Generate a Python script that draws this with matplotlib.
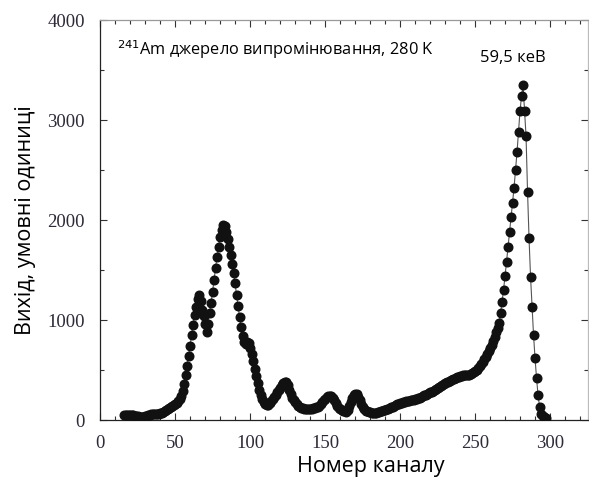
import numpy as np
import matplotlib
matplotlib.use("Agg")
import matplotlib.pyplot as plt
from matplotlib.ticker import MultipleLocator

# ---------------------------------------------------------------------------
# Data (channel -> counts)
# ---------------------------------------------------------------------------
channels = list(range(16, 298))

counts = [
    # 16-55
    55, 55, 52, 50, 50, 48, 48, 45, 42, 38,
    35, 33, 33, 35, 40, 45, 50, 55, 58, 60,
    62, 62, 63, 65, 68, 72, 78, 88, 100, 112,
    122, 132, 142, 152, 162, 175, 190, 210, 240, 290,
    # 56-95
    360, 450, 540, 640, 740, 850, 950, 1050, 1130, 1210,
    1250, 1190, 1100, 1040, 960, 880, 960, 1070, 1170, 1280,
    1400, 1520, 1630, 1730, 1830, 1900, 1950, 1940, 1880, 1810,
    1730, 1650, 1560, 1470, 1370, 1250, 1140, 1030, 930, 840,
    # 96-135
    780, 760, 780, 770, 720, 660, 590, 510, 440, 370,
    300, 250, 210, 180, 160, 150, 155, 170, 190, 210,
    235, 255, 280, 300, 325, 350, 370, 385, 380, 350,
    300, 260, 225, 200, 180, 160, 145, 135, 125, 120,
    # 136-175
    115, 112, 110, 110, 112, 115, 118, 122, 128, 135,
    145, 160, 180, 200, 215, 230, 240, 245, 240, 225,
    200, 170, 140, 120, 110, 100, 92, 87, 85, 100,
    140, 185, 225, 250, 260, 258, 235, 200, 165, 135,
    # 176-215
    110, 95, 88, 82, 78, 75, 73, 72, 74, 78,
    82, 88, 95, 100, 105, 110, 115, 120, 128, 135,
    142, 150, 158, 165, 170, 175, 180, 185, 190, 192,
    195, 198, 200, 205, 210, 215, 220, 225, 232, 240,
    # 216-255
    248, 255, 262, 270, 278, 285, 293, 300, 308, 318,
    328, 338, 348, 358, 368, 376, 384, 392, 400, 408,
    415, 422, 428, 434, 440, 444, 446, 447, 448, 450,
    455, 462, 470, 480, 492, 505, 520, 540, 562, 585,
    # 256-297
    610, 635, 660, 690, 720, 755, 790, 830, 880, 925,
    967, 1067, 1183, 1300, 1440, 1583, 1733, 1880, 2030, 2173,
    2323, 2500, 2683, 2883, 3093, 3240, 3350, 3093, 2840, 2283,
    1817, 1433, 1133, 850, 617, 417, 250, 133, 60, 40,
    30, 20,
]

x_ticks = [0, 50, 100, 150, 200, 250, 300]
y_ticks = [0, 1000, 2000, 3000, 4000]

label_x = "Номер каналу"
label_y = "Вихід, умовні одиниці"
note_source = r"$^{241}$Am джерело випромінювання, 280 K"
note_peak = "59,5 кеВ"

# ---------------------------------------------------------------------------
# Figure
# ---------------------------------------------------------------------------
fig = plt.figure(figsize=(5.89, 4.84), dpi=100)
ax = fig.add_axes([0.1698, 0.1322, 0.8285, 0.8264])

ax.plot(channels, counts, color="#555555", linewidth=0.8,
        marker="o", markersize=6.2, markerfacecolor="#111111",
        markeredgecolor="#111111", zorder=3)

ax.set_xlim(0, 325.3)
ax.set_ylim(0, 4000)
ax.set_xticks(x_ticks)
ax.set_yticks(y_ticks)
ax.xaxis.set_minor_locator(MultipleLocator(10))
ax.yaxis.set_minor_locator(MultipleLocator(500))

tick_color = "#2e2a38"
ax.tick_params(which="both", direction="in", top=True, right=True,
               colors="#333333", labelcolor=tick_color, width=0.8)
ax.tick_params(which="major", length=5)
ax.tick_params(axis="x", which="major", pad=11)
ax.tick_params(axis="y", which="major", pad=11)
ax.tick_params(which="minor", length=3)
for lab in ax.get_xticklabels() + ax.get_yticklabels():
    lab.set_fontfamily("Liberation Serif")
    lab.set_fontsize(13.5)

ax.spines["left"].set_color("#222222")
ax.spines["bottom"].set_color("#222222")
ax.spines["top"].set_color("#999999")
ax.spines["right"].set_color("#bbbbbb")
for s in ax.spines.values():
    s.set_linewidth(0.9)

ax.set_xlabel(label_x, fontfamily="Open Sans", fontsize=15.5, labelpad=4)
ax.xaxis.set_label_coords(0.555, -0.09)
ax.set_ylabel(label_y, fontfamily="Open Sans", fontsize=15.5, labelpad=8)

ax.text(0.035, 0.925, note_source, transform=ax.transAxes,
        fontfamily="Open Sans", fontsize=11.8, ha="left", va="center")
ax.text(0.845, 0.905, note_peak, transform=ax.transAxes,
        fontfamily="Open Sans", fontsize=12, ha="center", va="center")

fig.savefig("out.png", dpi=100)
